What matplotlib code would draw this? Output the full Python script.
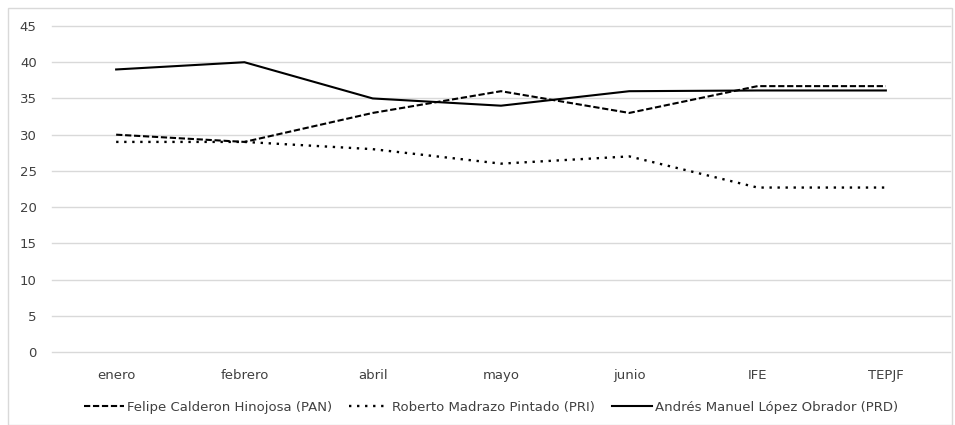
import matplotlib.pyplot as plt

# encuestas 2006 por candidato
meses = ['enero', 'febrero', 'abril', 'mayo', 'junio', 'IFE', 'TEPJF']
pan = [30, 29, 33, 36, 33, 36.7, 36.7]
pri = [29, 29, 28, 26, 27, 22.7, 22.7]
prd = [39, 40, 35, 34, 36, 36.1, 36.1]

plt.rcParams['font.family'] = ['DejaVu Sans']
txt = '#404040'

fig = plt.figure(figsize=(9.55, 4.25), dpi=100)
ax = fig.add_axes([52 / 955, 1 - 352 / 425, 898 / 955, 326 / 425])

x = range(len(meses))
ax.plot(x, pan, color='black', lw=1.5, linestyle=(0, (3, 1.3)),
        label='Felipe Calderon Hinojosa (PAN)')
ax.plot(x, pri, color='black', lw=1.7, linestyle=(0, (1, 2.4)),
        label='Roberto Madrazo Pintado (PRI)')
ax.plot(x, prd, color='black', lw=1.5, label='Andrés Manuel López Obrador (PRD)')

ax.set_xlim(-0.5, len(meses) - 0.5)
ax.set_ylim(0, 45)
ax.set_yticks(range(0, 46, 5))
ax.set_xticks(list(x))
ax.set_xticklabels(meses)
ax.grid(axis='y', color='#d9d9d9', lw=1, clip_on=False)
ax.set_axisbelow(True)
for s in ax.spines.values():
    s.set_visible(False)
ax.tick_params(length=0, labelsize=9.5, labelcolor=txt)
ax.tick_params(axis='x', pad=12)
ax.tick_params(axis='y', pad=11)

ax.legend(loc='center', bbox_to_anchor=(491 / 955, 1 - 407 / 425), bbox_transform=fig.transFigure,
          ncol=3, frameon=False, fontsize=9.5, labelcolor=txt, handlelength=3.0,
          handletextpad=0.25, columnspacing=1.3)

# marco del gráfico
fig.patches.append(plt.Rectangle((8 / 955, 0), 944 / 955, 1 - 8 / 425, transform=fig.transFigure,
                                 fill=False, edgecolor='#d9d9d9', lw=1))

fig.savefig('out.png', dpi=100)
